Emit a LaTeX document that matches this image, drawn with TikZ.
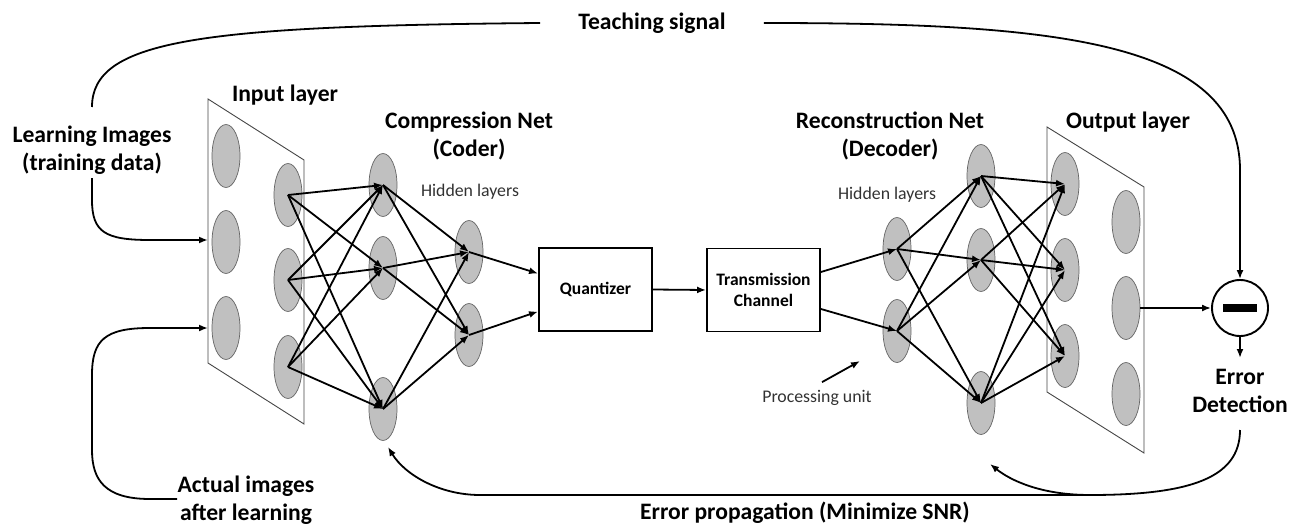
\documentclass[tikz,border=0pt]{standalone}
\usepackage{fontspec}
\setmainfont{Carlito}
\usetikzlibrary{shapes.geometric,arrows.meta}
\definecolor{unitfill}{RGB}{192,192,192}
\definecolor{unitedge}{RGB}{100,100,100}
\definecolor{paneledge}{RGB}{70,70,70}
\definecolor{notegray}{RGB}{50,50,50}
\begin{document}
\begin{tikzpicture}[x=1pt,y=-1pt,
  unit/.style={ellipse, minimum width=28pt, minimum height=63pt, inner sep=0pt,
    fill=unitfill, draw=unitedge, line width=0.7pt},
  conn/.style={line width=1.8pt, -{Latex[length=9pt,width=7pt]}},
  flow/.style={line width=1.8pt},
  block/.style={draw, line width=1.9pt, minimum width=113pt, minimum height=83pt,
    inner sep=0pt, font=\fontsize{17.5}{21}\selectfont\bfseries, align=center},
  title/.style={font=\fontsize{23.6}{28.5}\selectfont\bfseries, align=center, inner sep=0pt},
  note/.style={font=\fontsize{17.8}{21}\selectfont, text=notegray, inner sep=0pt},
  panel/.style={draw=paneledge, line width=0.9pt, fill=white}]
\useasboundingbox (0,0) rectangle (1304,524);

% ---------- input layer ----------
\draw[panel] (208,99) -- (304,160) -- (304,424) -- (208,363) -- cycle;
\node[unit] (a1) at (226,156) {};
\node[unit] (a2) at (226,242) {};
\node[unit] (a3) at (226,328) {};
\node[unit] (b1) at (288,195) {};
\node[unit] (b2) at (288,280) {};
\node[unit] (b3) at (288,367) {};

% ---------- compression net ----------
\node[unit] (c1) at (383,185) {};
\node[unit] (c2) at (383,268) {};
\node[unit] (c3) at (383,409) {};
\node[unit] (h1) at (469,252) {};
\node[unit] (h2) at (469,335) {};

% ---------- channel ----------
\node[block] (q) at (595.5,289.5) {Quantizer};
\node[block] (t) at (763.5,290) {Transmission\\Channel};

% ---------- reconstruction net ----------
\node[unit] (d1) at (897,249) {};
\node[unit] (d2) at (897,331) {};
\node[unit] (e1) at (981,176) {};
\node[unit] (e2) at (981,260) {};
\node[unit] (e3) at (981,403) {};

% ---------- output layer ----------
\draw[panel] (1047,127) -- (1144,187) -- (1144,453) -- (1047,392) -- cycle;
\node[unit] (o1) at (1065,184) {};
\node[unit] (o2) at (1065,270) {};
\node[unit] (o3) at (1065,356) {};
\node[unit] (p1) at (1126,222) {};
\node[unit] (p2) at (1126,308) {};
\node[unit] (p3) at (1126,394) {};

% ---------- error detector ----------
\node[circle, draw, line width=1.9pt, minimum size=56pt, inner sep=0pt] (err) at (1240,308) {};
\fill ([xshift=-17pt,yshift=4pt]err.center) rectangle ([xshift=17pt,yshift=-4pt]err.center);

% ---------- weights ----------
\foreach \s in {b1,b2,b3} \foreach \d in {c1,c2,c3} \draw[conn] (\s.center) -- (\d.center);
\foreach \s in {c1,c2,c3} \foreach \d in {h1,h2} \draw[conn] (\s.center) -- (\d.center);
\draw[conn] (h1.center) -- ([yshift=16pt]q.west);
\draw[conn] (h2.center) -- ([yshift=-22pt]q.west);
\draw[conn] (q.east) -- (t.west);
\draw[conn] ([yshift=18pt]t.east) -- (d1.center);
\draw[conn] ([yshift=-19pt]t.east) -- (d2.center);
\foreach \s in {d1,d2} \foreach \d in {e1,e2,e3} \draw[conn] (\s.center) -- (\d.center);
\foreach \s in {e1,e2,e3} \foreach \d in {o1,o2,o3} \draw[conn] (\s.center) -- (\d.center);
\draw[conn] (p2.east) -- (err.west);

% ---------- labels ----------
\node[title] (tin) at (285,95) {Input layer};
\node[title] (tcomp) at (469,136) {Compression Net\\(Coder)};
\node[title] (trec) at (890,136) {Reconstruction Net\\(Decoder)};
\node[title] (tout) at (1128,122) {Output layer};
\node[note] (hid1) at (470,192) {Hidden layers};
\node[note] (hid2) at (887,195) {Hidden layers};
\node[note] (proc) at (817,398) {Processing unit};
\node[title] (learn) at (92,150) {Learning Images\\(training data)};
\node[title] (actual) at (246,500) {Actual images\\after learning};
\node[title] (edet) at (1240,391) {Error\\Detection};
\node[title, inner xsep=38pt] (teach) at (652,23) {Teaching signal};
\node[title] (eprop) at (805,513) {Error propagation (Minimize SNR)};

% ---------- feedback paths ----------
\coordinate (learnTop) at (92,107);
\coordinate (learnBot) at (92,178);
\coordinate (inA) at (208,240);
\coordinate (inB) at (208,328);
\coordinate (actEnd) at (177,499);
\coordinate (edTop) at (1240,358);
\coordinate (edBot) at (1240,430);
\coordinate (join) at (1090,495);
\coordinate (backC) at (388,447);
\coordinate (backE) at (990,464);
\coordinate (pu) at (860,361);

\draw[flow] (learnTop) .. controls (92,40) and (200,26) .. (teach.west);
\draw[conn] (teach.east) .. controls (1050,23) and (1240,40) .. (1240,170) -- (err.north);
\draw[conn] (learnBot) -- (92,200) .. controls (92,232) and (105,240) .. (150,240) -- (inA);
\draw[conn] (actEnd) -- (150,499) .. controls (105,499) and (92,480) .. (92,450)
  -- (92,375) .. controls (92,340) and (105,328) .. (150,328) -- (inB);
\draw[conn] (err.south) -- (edTop);
\draw[conn] (edBot) .. controls (1240,478) and (1190,495) .. (join) -- (480,495)
  .. controls (440,495) and (405,475) .. (backC);
\draw[conn] (join) .. controls (1040,495) and (1010,480) .. (backE);
\draw[conn] ([xshift=5pt,yshift=8pt]proc.north) -- (pu);
\end{tikzpicture}
\end{document}
